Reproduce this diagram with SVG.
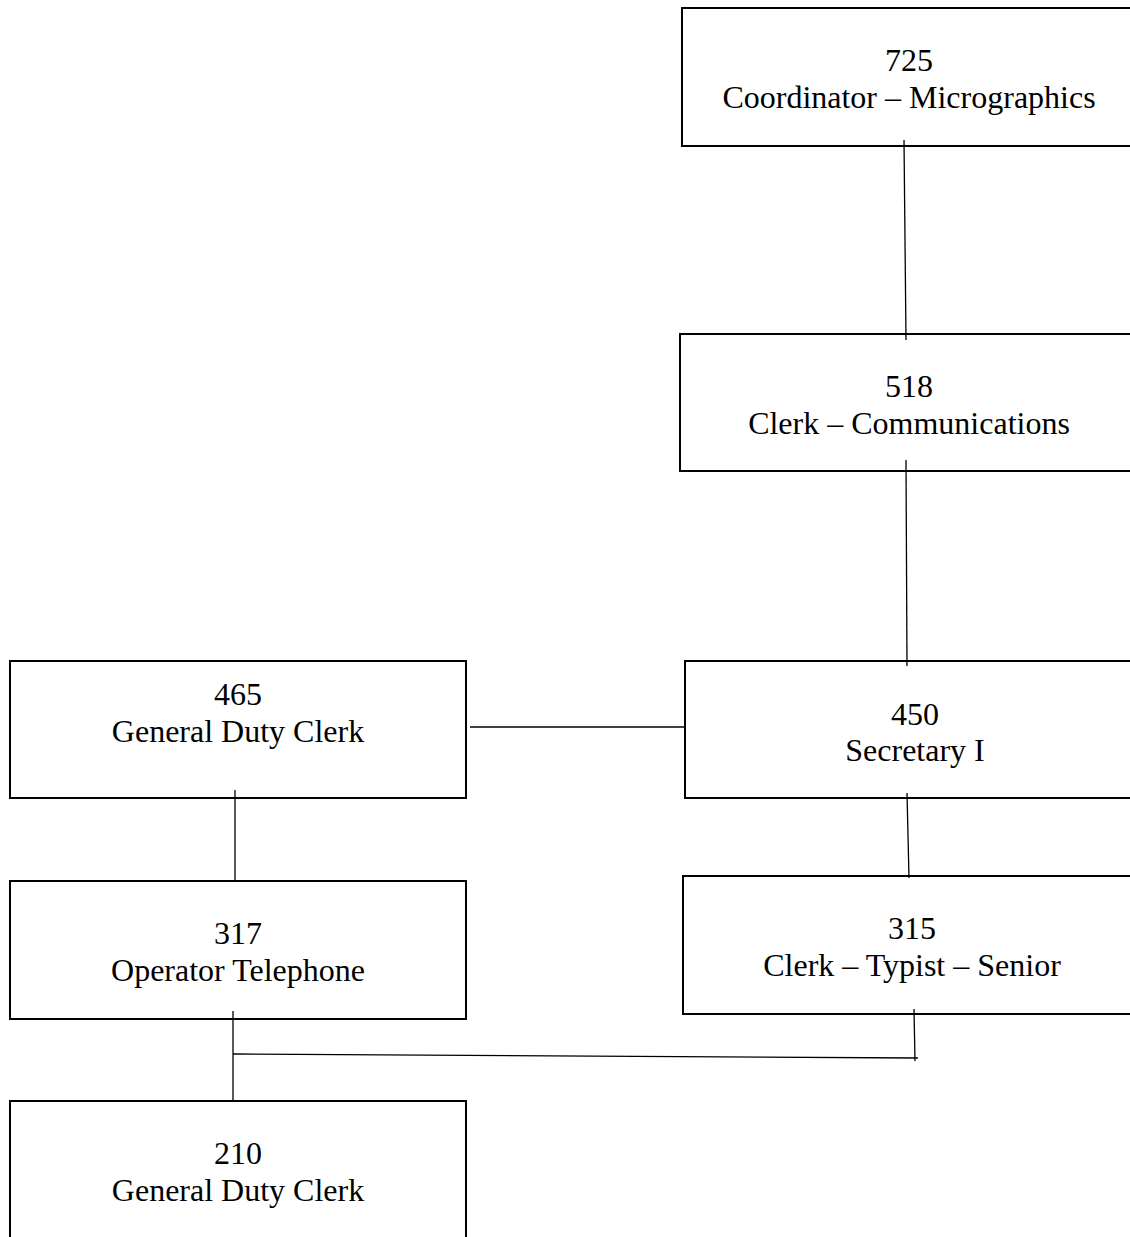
<svg xmlns="http://www.w3.org/2000/svg" width="1130" height="1237" viewBox="0 0 1130 1237">
<style>
.box{fill:#fff;stroke:#000;stroke-width:2}
.t{font-family:"Liberation Serif","Times New Roman",serif;font-size:32px;fill:#000;text-anchor:middle}
.c{stroke:#000;stroke-width:1.3;fill:none}
</style>
<rect width="1130" height="1237" fill="#fff"/>
<g id="node-725"><rect class="box" x="682" y="8" width="454" height="138"/><text class="t" x="909" y="71">725</text><text class="t" x="909" y="108">Coordinator – Micrographics</text></g>
<g id="node-518"><rect class="box" x="680" y="334" width="457" height="137"/><text class="t" x="909" y="397">518</text><text class="t" x="909" y="434">Clerk – Communications</text></g>
<g id="node-450"><rect class="box" x="685" y="661" width="460" height="137"/><text class="t" x="915" y="725">450</text><text class="t" x="915" y="761">Secretary I</text></g>
<g id="node-465"><rect class="box" x="10" y="661" width="456" height="137"/><text class="t" x="238" y="705">465</text><text class="t" x="238" y="742">General Duty Clerk</text></g>
<g id="node-317"><rect class="box" x="10" y="881" width="456" height="138"/><text class="t" x="238" y="944">317</text><text class="t" x="238" y="981">Operator Telephone</text></g>
<g id="node-315"><rect class="box" x="683" y="876" width="458" height="138"/><text class="t" x="912" y="939">315</text><text class="t" x="912" y="976">Clerk – Typist – Senior</text></g>
<g id="node-210"><rect class="box" x="10" y="1101" width="456" height="150"/><text class="t" x="238" y="1164">210</text><text class="t" x="238" y="1201">General Duty Clerk</text></g>
<g id="connectors">
<line class="c" x1="904" y1="140" x2="906" y2="340"/>
<line class="c" x1="906" y1="460" x2="907" y2="666"/>
<line class="c" x1="470" y1="727" x2="685" y2="727"/>
<line class="c" x1="235" y1="790" x2="235" y2="880"/>
<line class="c" x1="907" y1="793" x2="909" y2="878"/>
<line class="c" x1="233" y1="1011" x2="233" y2="1101"/>
<line class="c" x1="233" y1="1054" x2="918" y2="1058"/>
<line class="c" x1="914" y1="1009" x2="915" y2="1061"/>
</g>
</svg>
